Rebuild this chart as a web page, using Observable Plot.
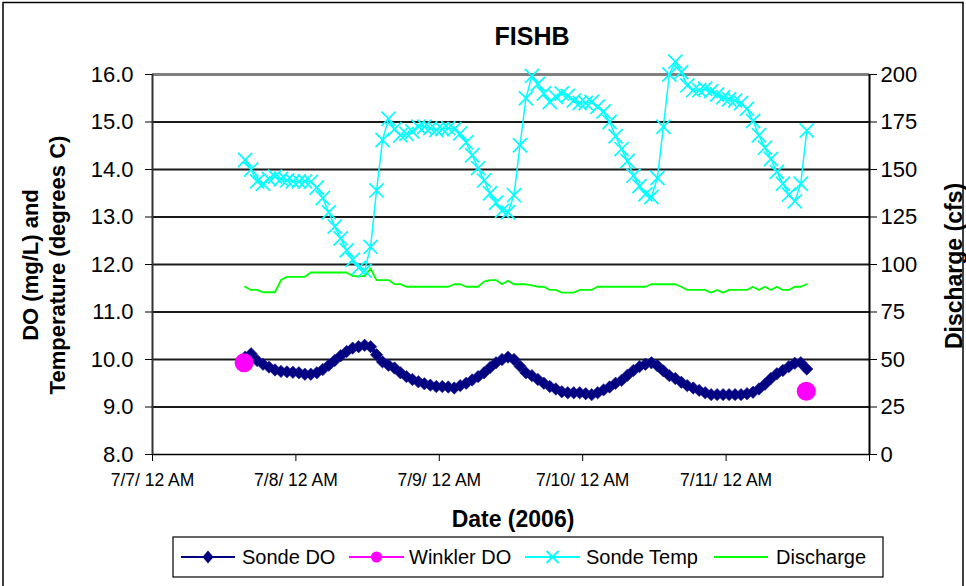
<!DOCTYPE html>
<html><head><meta charset="utf-8">
<script src="https://cdn.jsdelivr.net/npm/d3@7"></script>
<script src="https://cdn.jsdelivr.net/npm/@observablehq/plot@0.6"></script>
<style>body{margin:0;background:#fff} #chart{width:966px;height:586px}</style>
</head><body><div id="chart"></div>
<script>
// Hourly sonde readings starting 7/7/2006 15:30
const startTime = "2006-07-07T15:30:00Z";
const sondeDO = [10.05,10.12,9.98,9.9,9.84,9.78,9.75,9.74,9.73,9.72,9.69,9.69,9.72,9.79,9.88,9.98,10.08,10.17,10.24,10.27,
  10.3,10.27,10.1,9.95,9.88,9.82,9.72,9.64,9.58,9.53,9.49,9.46,9.43,9.43,9.42,9.4,9.45,9.5,9.57,9.64,
  9.72,9.83,9.93,10.0,10.05,10.0,9.86,9.72,9.66,9.58,9.5,9.43,9.38,9.32,9.3,9.3,9.3,9.28,9.26,9.3,
  9.36,9.42,9.5,9.56,9.67,9.77,9.85,9.9,9.93,9.87,9.76,9.66,9.6,9.52,9.45,9.4,9.35,9.3,9.26,9.26,
  9.26,9.26,9.26,9.26,9.28,9.31,9.38,9.48,9.6,9.7,9.77,9.85,9.92,9.93,9.8];
const sondeTemp = [14.2,14.0,13.75,13.7,13.8,13.85,13.8,13.77,13.75,13.75,13.75,13.74,13.62,13.4,13.1,12.8,12.55,12.3,12.1,11.93,
  11.87,12.37,13.56,14.62,15.07,14.85,14.72,14.75,14.8,14.9,14.9,14.87,14.83,14.85,14.87,14.85,14.76,14.57,14.3,14.03,
  13.77,13.5,13.3,13.13,13.1,13.46,14.51,15.5,15.97,15.8,15.6,15.42,15.53,15.6,15.55,15.45,15.4,15.4,15.42,15.32,
  15.22,15.0,14.7,14.43,14.18,13.87,13.65,13.48,13.42,13.82,14.9,16.0,16.27,16.05,15.77,15.67,15.67,15.7,15.65,15.58,
  15.52,15.48,15.45,15.4,15.28,15.02,14.72,14.46,14.22,13.95,13.7,13.47,13.33,13.7,14.82];
const discharge = [88.3,86.6,86.6,85.4,85.4,85.4,91.8,93.5,93.5,93.5,93.5,95.8,95.8,95.8,95.8,95.8,95.8,95.8,93.9,93.9,
  93.9,97.9,91.8,91.8,91.8,89.7,89.7,88.3,88.3,88.3,88.3,88.3,88.3,88.3,88.3,89.6,89.6,88.3,88.3,88.3,
  91.0,91.8,91.8,89.6,91.5,89.6,89.6,89.6,89.0,88.3,88.3,86.6,86.6,85.2,85.2,85.2,86.6,86.6,86.6,88.3,
  88.3,88.3,88.3,88.3,88.3,88.3,88.3,88.3,89.6,89.6,89.6,89.6,89.6,88.3,86.6,86.6,86.6,86.6,85.2,86.6,
  85.2,86.6,86.6,86.6,86.6,88.3,86.6,88.3,86.6,88.3,86.6,86.6,88.3,88.3,89.6];
const winklerTimes = ["2006-07-07T15:20:00Z", "2006-07-11T13:25:00Z"];
const winklerDO = [9.93, 9.33];

const xTickDates = ["2006-07-07","2006-07-08","2006-07-09","2006-07-10","2006-07-11","2006-07-12"].map(d => new Date(d + "T00:00:00Z"));
const xTickLabels = ["7/7/ 12 AM","7/8/ 12 AM","7/9/ 12 AM","7/10/ 12 AM","7/11/ 12 AM",""];
const leftTicks = [8,9,10,11,12,13,14,15,16];
const rightTicks = [0,25,50,75,100,125,150,175,200];
const gridVals = [9,10,11,12,13,14,15];

const t0 = new Date(startTime).getTime();
const rows = sondeTemp.map((v, i) => ({t: new Date(t0 + i * 3600e3), temp: v, sdo: sondeDO[i], q: discharge[i]}));
const winkler = winklerTimes.map((d, i) => ({t: new Date(d), v: winklerDO[i]}));
// right axis (0–200 cfs) shares the frame with the left axis (8–16)
const toLeft = q => 8 + q / 25;

const font = "'Liberation Sans', Arial, sans-serif";
const plot = Plot.plot({
  width: 966, height: 586,
  marginLeft: 152, marginRight: 97, marginTop: 74, marginBottom: 132,
  style: {fontFamily: font, background: "white", color: "black", overflow: "visible"},
  x: {type: "utc", domain: [xTickDates[0], xTickDates[xTickDates.length - 1]]},
  y: {domain: [8, 16]},
  marks: [
    Plot.ruleY(gridVals, {stroke: "#1a1a1a", strokeWidth: 2}),
    Plot.ruleY([16], {stroke: "#808080", strokeWidth: 3}),
    Plot.ruleY([8], {stroke: "#000", strokeWidth: 1.5}),
    Plot.ruleX([xTickDates[0]], {stroke: "#333", strokeWidth: 2}),
    Plot.ruleX([xTickDates[xTickDates.length - 1]], {stroke: "#000", strokeWidth: 2}),
    Plot.axisY({anchor: "left", ticks: leftTicks, tickSize: 7, tickPadding: 12, tickFormat: d => d.toFixed(1), fontSize: 22, label: null}),
    Plot.axisY({anchor: "right", ticks: rightTicks.map(toLeft), tickSize: 7, tickPadding: 4,
      tickFormat: d => String(rightTicks[leftTicks.indexOf(d)]), fontSize: 22, label: null}),
    Plot.axisX({ticks: xTickDates, tickSize: 7, tickPadding: 12,
      tickFormat: d => xTickLabels[xTickDates.findIndex(x => +x === +d)], fontSize: 17.5, label: null}),
    Plot.line(rows, {x: "t", y: d => toLeft(d.q), stroke: "#00ff00", strokeWidth: 1.8}),
    Plot.line(rows, {x: "t", y: "sdo", stroke: "#000080", strokeWidth: 4}),
    Plot.dot(rows, {x: "t", y: "sdo", symbol: "diamond2", r: 5.6, fill: "#000080", stroke: "#1a1a90", strokeWidth: 0.6}),
    Plot.dot(winkler, {x: "t", y: "v", r: 9.5, fill: "#ff00ff"}),
    Plot.line(rows, {x: "t", y: "temp", stroke: "#00ffff", strokeWidth: 1.5}),
    Plot.dot(rows, {x: "t", y: "temp", symbol: "times", r: 6.5, stroke: "#00ffff", strokeWidth: 1.7})
  ]
});

const svg = d3.select(plot);
// Title and axis titles
svg.append("text").attr("x", 532).attr("y", 45).attr("text-anchor", "middle")
  .attr("font-family", font).attr("font-weight", "bold").attr("font-size", 25).text("FISHB");
svg.append("text").attr("x", 513).attr("y", 527).attr("text-anchor", "middle")
  .attr("font-family", font).attr("font-weight", "bold").attr("font-size", 23).text("Date (2006)");
const yt = svg.append("text").attr("transform", "translate(38,265) rotate(-90)").attr("text-anchor", "middle")
  .attr("font-family", font).attr("font-weight", "bold").attr("font-size", 22);
yt.append("tspan").attr("x", 0).attr("y", 0).text("DO (mg/L) and");
yt.append("tspan").attr("x", 0).attr("y", 27).text("Temperature (degrees C)");
svg.append("text").attr("transform", "translate(962,266) rotate(-90)").attr("text-anchor", "middle")
  .attr("font-family", font).attr("font-weight", "bold").attr("font-size", 23).text("Discharge (cfs)");

// Legend
const lg = svg.append("g");
lg.append("rect").attr("x", 173).attr("y", 537).attr("width", 710).attr("height", 40)
  .attr("fill", "white").attr("stroke", "black").attr("stroke-width", 1.2);
const ly = 557;
const items = [
  {x1: 181, x2: 235, color: "#000080", label: "Sonde DO", tx: 242, mark: "diamond"},
  {x1: 349, x2: 404, color: "#ff00ff", label: "Winkler DO", tx: 409, mark: "circle"},
  {x1: 525, x2: 580, color: "#00ffff", label: "Sonde Temp", tx: 586, mark: "times"},
  {x1: 714, x2: 768, color: "#00ff00", label: "Discharge", tx: 776, mark: null}
];
for (const it of items) {
  lg.append("line").attr("x1", it.x1).attr("x2", it.x2).attr("y1", ly).attr("y2", ly)
    .attr("stroke", it.color).attr("stroke-width", 2.2);
  const cx = (it.x1 + it.x2) / 2;
  if (it.mark === "diamond") lg.append("path").attr("d", `M${cx},${ly-6.5}L${cx+5.5},${ly}L${cx},${ly+6.5}L${cx-5.5},${ly}Z`).attr("fill", it.color);
  if (it.mark === "circle") lg.append("circle").attr("cx", cx).attr("cy", ly).attr("r", 5.5).attr("fill", it.color);
  if (it.mark === "times") lg.append("path").attr("d", `M${cx-6},${ly-6}L${cx+6},${ly+6}M${cx-6},${ly+6}L${cx+6},${ly-6}`)
    .attr("stroke", it.color).attr("stroke-width", 1.8).attr("fill", "none");
  lg.append("text").attr("x", it.tx).attr("y", ly).attr("dy", "0.35em").attr("text-anchor", "start")
    .attr("font-family", font).attr("font-size", 20).text(it.label);
}
// Outer chart border
svg.append("rect").attr("x", 3).attr("y", 2.5).attr("width", 960).attr("height", 590)
  .attr("fill", "none").attr("stroke", "black").attr("stroke-width", 1.5);

document.getElementById("chart").append(plot);
</script>
</body></html>
